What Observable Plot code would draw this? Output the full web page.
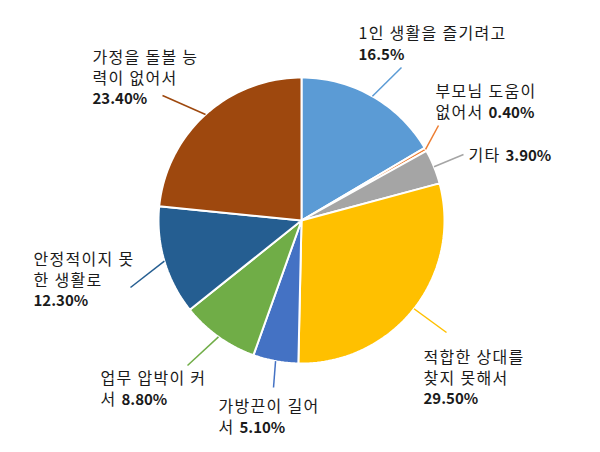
<!DOCTYPE html>
<html>
<head>
<meta charset="utf-8">
<script src="https://cdn.jsdelivr.net/npm/d3@7"></script>
<script src="https://cdn.jsdelivr.net/npm/@observablehq/plot@0.6"></script>
<style>
  html, body { margin: 0; padding: 0; background: #fff; }
  #chart svg { display: block; }
  #chart text.lbl { letter-spacing: 1.3px; }
  #chart tspan.val { font-weight: bold; font-size: 15px; letter-spacing: 0; }
</style>
</head>
<body>
<div id="chart"></div>
<script>
// ---- data ----
const categories = ["1인 생활을 즐기려고", "부모님 도움이 없어서", "기타", "적합한 상대를 찾지 못해서",
                    "가방끈이 길어서", "업무 압박이 커서", "안정적이지 못한 생활로", "가정을 돌볼 능력이 없어서"];
const values = [16.5, 0.4, 3.9, 29.5, 5.1, 8.8, 12.3, 23.4];
const valueLabels = ["16.5%", "0.40%", "3.90%", "29.50%", "5.10%", "8.80%", "12.30%", "23.40%"];
const colors = ["#5B9BD5", "#ED7D31", "#A5A5A5", "#FFC000", "#4472C4", "#70AD47", "#255E91", "#9E480E"];
// wrapped label lines; the value label is appended to the last line
const labelLines = [
  ["1인 생활을 즐기려고", ""],
  ["부모님 도움이", "없어서 "],
  ["기타 "],
  ["적합한 상대를", "찾지 못해서", ""],
  ["가방끈이 길어", "서 "],
  ["업무 압박이 커", "서 "],
  ["안정적이지 못", "한 생활로", ""],
  ["가정을 돌볼 능", "력이 없어서", ""]
];

// ---- layout (pixels) ----
const W = 600, H = 452, CX = 301, CY = 220, R = 143;
const FONT_SIZE = 16, LINE_H = 20.5;
const FONT = "'Noto Sans CJK KR', 'Noto Sans', sans-serif";
// [text x, first line y, leader end x, leader end y]
const labelLayout = [
  [358, 32, 401, 67],
  [435, 90, 438, 125],
  [468, 154, 463, 154],
  [423, 356, 446, 332],
  [218, 405, 273, 387],
  [100, 377, 187, 365],
  [33, 258, 130, 287],
  [92, 56, 162, 95]
];

// ---- derived geometry ----
const total = d3.sum(values);
let cum = 0;
const slices = values.map((v, i) => {
  const a0 = cum / total * 2 * Math.PI;
  cum += v;
  const a1 = cum / total * 2 * Math.PI;
  const n = Math.max(2, Math.ceil((a1 - a0) / (2 * Math.PI) * 240));
  const pts = [{x: CX, y: CY}];
  for (let k = 0; k <= n; k++) {
    const a = a0 + (a1 - a0) * k / n;
    pts.push({x: CX + R * Math.sin(a), y: CY - R * Math.cos(a)});
  }
  return {i, a0, a1, mid: (a0 + a1) / 2, pts};
});

const leaders = slices.map(s => ({
  x1: CX + R * Math.sin(s.mid), y1: CY - R * Math.cos(s.mid),
  x2: labelLayout[s.i][2], y2: labelLayout[s.i][3], color: colors[s.i]
}));

const labels = labelLines.map((lines, i) => {
  const ls = lines.slice();
  ls[ls.length - 1] = ls[ls.length - 1] + valueLabels[i];
  const [tx, ty] = labelLayout[i];
  return {x: tx, y: ty + (ls.length - 1) * LINE_H / 2, text: ls.join("\n")};
});

const marks = [];
slices.forEach(s => {
  marks.push(Plot.line(s.pts, {x: "x", y: "y", fill: colors[s.i], stroke: "white",
    strokeWidth: 2, strokeLinejoin: "round", curve: "linear-closed"}));
});
marks.push(Plot.link(leaders, {x1: "x1", y1: "y1", x2: "x2", y2: "y2", stroke: "color", strokeWidth: 1.5}));
marks.push(Plot.text(labels, {x: "x", y: "y", text: "text", textAnchor: "start", lineAnchor: "middle",
  lineHeight: LINE_H / FONT_SIZE, fill: "#1a1a1a", fontSize: FONT_SIZE, fontFamily: FONT}));

const chart = Plot.plot({
  width: W, height: H, margin: 0,
  x: {domain: [0, W], range: [0, W], axis: null},
  y: {domain: [0, H], range: [0, H], axis: null},
  color: {type: "identity"},
  style: {background: "white", fontFamily: FONT},
  marks
});

// make the percentage part of each label bold
const valueSet = new Set(valueLabels);
chart.querySelectorAll("text").forEach(t => {
  if (!t.querySelector("tspan") && !/%$/.test(t.textContent)) return;
  t.classList.add("lbl");
  const parts = t.querySelectorAll("tspan").length ? Array.from(t.querySelectorAll("tspan")) : [t];
  parts.forEach(el => {
    const s = el.textContent;
    const m = s.match(/^(.*?)(\d+(?:\.\d+)?%)$/);
    if (m && valueSet.has(m[2])) {
      el.textContent = m[1];
      const b = document.createElementNS("http://www.w3.org/2000/svg", "tspan");
      b.setAttribute("class", "val");
      b.textContent = m[2];
      el.appendChild(b);
    }
  });
});
document.getElementById("chart").appendChild(chart);
</script>
</body>
</html>
